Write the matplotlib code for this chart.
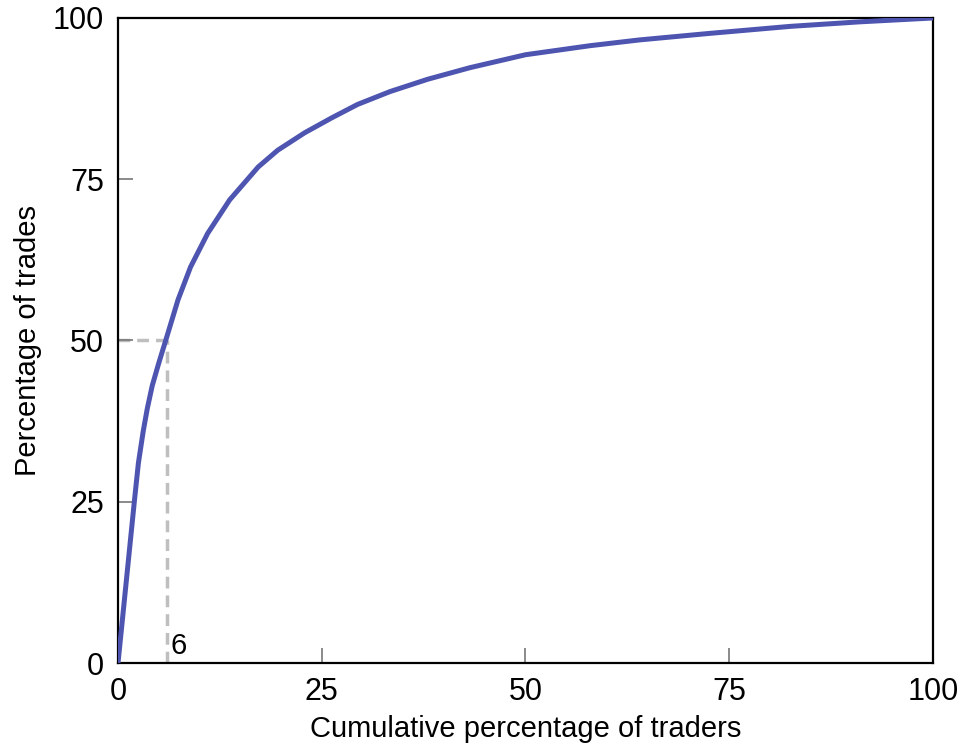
import numpy as np
import matplotlib
matplotlib.use("Agg")
import matplotlib.pyplot as plt

plt.rcParams['font.family'] = ['Liberation Sans', 'DejaVu Sans']

# cumulative share of traders (x) vs share of trades (y)
traders_pct = [0, 0.8, 2.0, 2.5, 3.1, 3.6, 4.2, 5.0, 5.85, 7.36, 8.9, 11.0,
               13.7, 17.2, 19.6, 22.9, 26.2, 29.4, 33.4, 38.0, 43.2, 50.0,
               57.9, 64.0, 72.5, 82.5, 91.0, 100]
trades_pct = [0, 10, 25, 31, 36, 39.5, 43, 46.5, 50, 56.3, 61.4, 66.6,
              71.8, 76.9, 79.5, 82.2, 84.5, 86.6, 88.6, 90.5, 92.3, 94.3,
              95.7, 96.6, 97.6, 98.7, 99.4, 100]

mark_x = 6
mark_y = 50
ticks = [0, 25, 50, 75, 100]

fig = plt.figure(figsize=(9.65, 7.49), dpi=100)
ax = fig.add_axes([0.1223, 0.1148, 0.8445, 0.8612])

# dashed guide lines to the 50% point
ax.plot([0, mark_x], [mark_y, mark_y], ls=(0, (3.4, 2.0)), color='#bfbfbf', lw=2.5, zorder=1)
ax.plot([mark_x, mark_x], [0, mark_y], ls=(0, (3.4, 2.0)), color='#bfbfbf', lw=2.5, zorder=1)

ax.plot(traders_pct, trades_pct, color='#4e55b1', lw=3.6, solid_joinstyle='round',
        solid_capstyle='round', zorder=3)

ax.text(mark_x + 0.4, 0.4, str(mark_x), fontsize=21, ha='left', va='bottom')

ax.set_xlim(0, 100)
ax.set_ylim(0, 100)
ax.set_xticks(ticks)
ax.set_yticks(ticks)
ax.tick_params(direction='in', length=11, width=1.2, color='#777777',
               labelsize=22, pad=10)
for s in ax.spines.values():
    s.set_linewidth(1.6)
    s.set_color('black')

ax.set_xlabel('Cumulative percentage of traders', fontsize=21, labelpad=6)
ax.set_ylabel('Percentage of trades', fontsize=21, labelpad=8)

fig.savefig('out.png', dpi=100)
